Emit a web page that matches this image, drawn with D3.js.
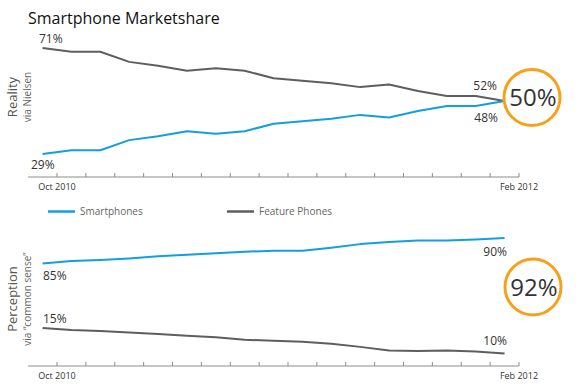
<!DOCTYPE html>
<meta charset="utf-8">
<style>
  body { margin: 0; background: #fff; }
  svg text { font-family: "Open Sans", "Noto Sans", sans-serif; }
  .axis line, .axis path { stroke: #8c8c8c; }
  .pct { font-size: 12px; fill: #333; }
  .big { font-size: 24px; fill: #333; }
  .tick-label { font-size: 9px; fill: #333; }
</style>
<body>
<div id="chart"></div>
<script src="https://d3js.org/d3.v7.min.js"></script>
<script>

// months shown on the time axis, one tick each
var months = ["Oct 2010", "Nov 2010", "Dec 2010", "Jan 2011", "Feb 2011", "Mar 2011",
              "Apr 2011", "May 2011", "Jun 2011", "Jul 2011", "Aug 2011", "Sep 2011",
              "Oct 2011", "Nov 2011", "Dec 2011", "Jan 2012", "Feb 2012"];

// Reality (Nielsen), share in %
var smartReal   = [29, 30.5, 30.5, 34.5, 36, 38, 37, 38, 41, 42, 43, 44.5, 43.5, 46, 48, 48, 50];
var featureReal = [71, 69.5, 69.5, 65.5, 64, 62, 63, 62, 59, 58, 57, 55.5, 56.5, 54, 52, 52, 50];

// Perception ("common sense"), share in %
var smartPerc   = [85, 85.5, 85.7, 86, 86.4, 86.7, 87, 87.3, 87.5, 87.5, 88.1, 88.8, 89.2, 89.5, 89.5, 89.7, 90];
var featurePerc = [15, 14.6, 14.4, 14.1, 13.8, 13.5, 13.2, 12.7, 12.5, 12.3, 11.9, 11.3, 10.6, 10.5, 10.6, 10.4, 10];

var bubbles = ["50%", "92%"];

var width = 585, height = 387;
var blue = "#139fdf", grey = "#5e5e5e", orange = "#f7a11a";

var svg = d3.select("#chart").append("svg")
    .attr("width", width)
    .attr("height", height);

// ticks at the month, points measured half a month earlier
var x = d3.scaleLinear().domain([0, months.length - 1]).range([57, 519]);
var px = function(d, i) { return x(i - 0.5); };

svg.append("text")
    .attr("x", 28).attr("y", 24)
    .style("font-size", "16px").style("fill", "#111")
    .text("Smartphone Marketshare");

function axis(y0) {
  var g = svg.append("g").attr("class", "axis");
  g.append("line")
      .attr("x1", x(-1)).attr("x2", x(months.length - 1))
      .attr("y1", y0).attr("y2", y0);
  g.selectAll(".t").data(months).enter().append("line")
      .attr("class", "t")
      .attr("x1", function(d, i) { return x(i); })
      .attr("x2", function(d, i) { return x(i); })
      .attr("y1", y0).attr("y2", y0 - 4);
  [0, months.length - 1].forEach(function(i) {
    g.append("text")
        .attr("class", "tick-label")
        .attr("x", x(i)).attr("y", y0 + 13)
        .attr("text-anchor", "middle")
        .text(months[i]);
  });
}

function sideLabel(cy, main, sub) {
  svg.append("text")
      .attr("transform", "translate(17," + cy + ") rotate(-90)")
      .attr("text-anchor", "middle")
      .style("font-size", "13px").style("fill", "#555")
      .text(main);
  svg.append("text")
      .attr("transform", "translate(31," + cy + ") rotate(-90)")
      .attr("text-anchor", "middle")
      .style("font-size", "10px").style("fill", "#666")
      .text(sub);
}

function line(data, y, color) {
  svg.append("path")
      .datum(data)
      .attr("fill", "none")
      .attr("stroke", color)
      .attr("stroke-width", 2)
      .attr("stroke-linejoin", "round")
      .attr("d", d3.line().x(px).y(function(d) { return y(d); }));
}

function pct(xp, yp, txt, anchor) {
  svg.append("text")
      .attr("class", "pct")
      .attr("x", xp).attr("y", yp)
      .attr("text-anchor", anchor || "start")
      .text(txt);
}

function bubble(cx, cy, txt) {
  svg.append("circle")
      .attr("cx", cx).attr("cy", cy).attr("r", 28)
      .attr("fill", "#fff")
      .attr("stroke", orange)
      .attr("stroke-width", 3);
  svg.append("text")
      .attr("class", "big")
      .attr("x", cx + 1).attr("y", cy + 8.5)
      .attr("text-anchor", "middle")
      .text(txt);
}

// --- Reality panel
var yReal = d3.scaleLinear().domain([29, 71]).range([154, 48]);
axis(177);
sideLabel(97, "Reality", "via Nielsen");
line(featureReal, yReal, grey);
line(smartReal, yReal, blue);
var last = smartReal.length - 1;
pct(39, yReal(featureReal[0]) - 5, featureReal[0] + "%");
pct(31, yReal(smartReal[0]) + 15, smartReal[0] + "%");
pct(497, yReal(featureReal[last]) - 11, "52%", "end");
pct(498, yReal(smartReal[last]) + 21, "48%", "end");
bubble(532, 97.5, bubbles[0]);

// --- legend
var legend = [{name: "Smartphones", color: blue, x: 48}, {name: "Feature Phones", color: grey, x: 227}];
legend.forEach(function(d) {
  svg.append("line")
      .attr("x1", d.x).attr("x2", d.x + 27)
      .attr("y1", 211.5).attr("y2", 211.5)
      .attr("stroke", d.color).attr("stroke-width", 2.5);
  svg.append("text")
      .attr("x", d.x + 32).attr("y", 215)
      .style("font-size", "10px").style("fill", "#666")
      .text(d.name);
});

// --- Perception panel (two separate bands, same px per %)
var ySmartPerc = d3.scaleLinear().domain([85, 90]).range([263.5, 238]);
var yFeatPerc  = d3.scaleLinear().domain([10, 15]).range([353.5, 328]);
axis(366);
sideLabel(299, "Perception", "via \u201ccommon sense\u201d");
line(smartPerc, ySmartPerc, blue);
line(featurePerc, yFeatPerc, grey);
pct(43, ySmartPerc(smartPerc[0]) + 16.5, smartPerc[0] + "%");
pct(43, yFeatPerc(featurePerc[0]) - 5, featurePerc[0] + "%");
pct(507, ySmartPerc(smartPerc[last]) + 17.5, smartPerc[last] + "%", "end");
pct(507, yFeatPerc(featurePerc[last]) - 8.5, featurePerc[last] + "%", "end");
bubble(533, 287, bubbles[1]);

</script>
</body>
</html>
